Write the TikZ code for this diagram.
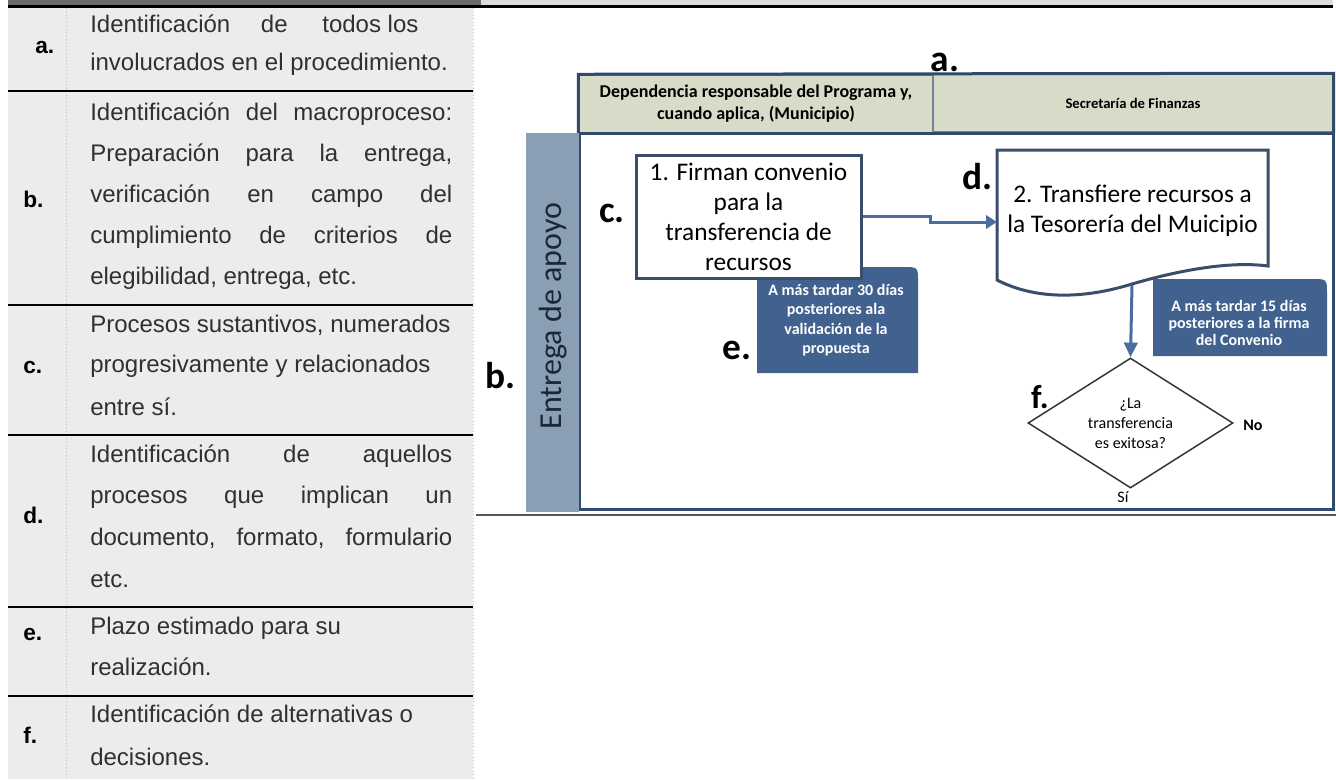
\documentclass[tikz,border=0pt]{standalone}
\usepackage{fontspec}
\setmainfont{Liberation Sans}
\newfontfamily\calib{Carlito}
\usetikzlibrary{shapes.geometric,arrows.meta}
\definecolor{tablebg}{HTML}{ECECEC}
\definecolor{topdark}{HTML}{6E6A6A}
\definecolor{toplight}{HTML}{DCDCDC}
\definecolor{tabtext}{HTML}{303030}
\definecolor{dotc}{HTML}{BDBDBD}
\definecolor{hdrfill}{HTML}{D7DCC8}
\definecolor{hdrline}{HTML}{6F8399}
\definecolor{frame}{HTML}{2F4A6D}
\definecolor{lanefill}{HTML}{8A9FB4}
\definecolor{calfill}{HTML}{41618F}
\definecolor{arrowc}{HTML}{4A6C9E}
\definecolor{boxborder}{HTML}{3A4D6A}
\definecolor{lanetext}{HTML}{1D2733}
\newcommand\jline[1]{\makebox[271.5pt][s]{#1}}
\def\u{0.75pt}
\begin{document}
\begin{tikzpicture}[x=0.75pt,y=-0.75pt,
  tl/.style={anchor=base west, inner sep=0, text=tabtext, font=\fontsize{18}{21}\selectfont},
  tletter/.style={anchor=base west, inner sep=0, text=black, font=\bfseries\fontsize{17}{20}\selectfont},
  rowline/.style={draw=black, line width=2pt},
  dotline/.style={draw=dotc, line width=0.6pt, dotted},
  biglbl/.style={inner sep=0, text=black, font=\calib\bfseries\fontsize{28}{30}\selectfont},
  hdrcell/.style={draw=hdrline, line width=1.1pt, fill=hdrfill, inner sep=0, align=center, text=black},
  procbox/.style={draw=boxborder, line width=2.25pt, fill=white, inner sep=0, align=center, font=\calib\fontsize{19}{22.5}\selectfont},
  arr/.style={draw=arrowc, line width=2.25pt},
  caltext/.style={inner sep=0, align=center, text=white, font=\calib\bfseries\fontsize{12}{14.6}\selectfont},
]
\useasboundingbox (0,0) rectangle (1336,779);
\fill[white] (0,0) rectangle (1336,779);

% ---------- legend table ----------
\fill[tablebg] (8,7) rectangle (473,779);
\fill[topdark] (8,0) rectangle (481,5);
\fill[toplight] (481,0) rectangle (1333,5);
\fill[black] (8,4.8) rectangle (1333,7.6);
\draw[dotline] (66,8) -- (66,779);
\draw[dotline] (473,8) -- (473,779);
\foreach \yy in {91,305,435,607,696} { \draw[rowline] (8,\yy) -- (473,\yy); }

\node[tletter] (la) at (35,53) {a.};
\node[tl] (ta1) at (90,32) {Identificación\hspace{23pt}de\hspace{26pt}todos los};
\node[tl] (ta2) at (90,70) {involucrados en el procedimiento.};

\node[tletter] (lb) at (23,207) {b.};
\node[tl] (tb1) at (90,120) {\jline{Identificación del macroproceso:}};
\node[tl] (tb2) at (90,161) {\jline{Preparación para la entrega,}};
\node[tl] (tb3) at (90,202) {\jline{verificación en campo del}};
\node[tl] (tb4) at (90,243) {\jline{cumplimiento de criterios de}};
\node[tl] (tb5) at (90,284) {elegibilidad, entrega, etc.};

\node[tletter] (lc) at (23,373) {c.};
\node[tl] (tc1) at (90,332) {Procesos sustantivos, numerados};
\node[tl] (tc2) at (90,372) {progresivamente y relacionados};
\node[tl] (tc3) at (90,415) {entre sí.};

\node[tletter] (ld) at (23,523) {d.};
\node[tl] (td1) at (90,462) {\jline{Identificación de aquellos}};
\node[tl] (td2) at (90,503) {\jline{procesos que implican un}};
\node[tl] (td3) at (90,545) {\jline{documento, formato, formulario}};
\node[tl] (td4) at (90,587) {etc.};

\node[tletter] (le) at (23,640) {e.};
\node[tl] (te1) at (90,634) {Plazo estimado para su};
\node[tl] (te2) at (90,675) {realización.};

\node[tletter] (lf) at (23,743) {f.};
\node[tl] (tf1) at (90,722) {Identificación de alternativas o};
\node[tl] (tf2) at (90,765) {decisiones.};

% ---------- diagram ----------
\draw[draw=topdark!80!black, line width=1.1pt] (476,515) -- (1336,515);

\node[hdrcell, minimum width=354*\u, minimum height=58*\u,
      font=\calib\bfseries\fontsize{13.5}{16.5}\selectfont] (h1) at (756,104)
      {Dependencia responsable del Programa y,\\cuando aplica, (Municipio)};
\node[hdrcell, minimum width=400*\u, minimum height=58*\u,
      font=\calib\bfseries\fontsize{11}{13}\selectfont] (h2) at (1133,103)
      {Secretaría de Finanzas};

\node[draw=frame, line width=2.25pt, fill=white, minimum width=754*\u, minimum height=376*\u, inner sep=0] (body) at (956,321) {};
\draw[draw=frame, line width=2.25pt] (h1.south west) -- (h1.north west) -- (h2.north east) -- (h2.south east);

\node[fill=lanefill, minimum width=53*\u, minimum height=379*\u, inner sep=0] (bar) at (552.5,322.5) {};
\node[rotate=90, inner sep=0, text=lanetext, font=\calib\fontsize{24}{26}\selectfont] (lanelbl) at (553,316) {Entrega de apoyo};

% callout e (behind box 1)
\fill[calfill] (757,373) -- (757,267) -- (903,267) .. controls (918,267) .. (918,282) -- (918,373) -- cycle;
\node[caltext] (c30) at (836,320) {A más tardar 30 días\\posteriores ala\\validación de la\\propuesta};

% callout 15 dias
\fill[calfill] (1153,356) -- (1153,279) -- (1312,279) .. controls (1327,279) .. (1327,294) -- (1327,356) -- cycle;
\node[caltext, font=\calib\bfseries\fontsize{12}{12.6}\selectfont] (c15) at (1239,323) {A más tardar 15 días\\posteriores a la firma\\del Convenio};

% process 1
\node[procbox, minimum width=225*\u, minimum height=123*\u] (p1) at (748.5,216.5)
  {1. Firman convenio\\para la\\transferencia de\\recursos};

% process 2 (document shape)
\filldraw[fill=white, draw=boxborder, line width=2.25pt]
  (997,150) -- (1268,150) -- (1268,266)
  .. controls (1230,261) and (1180,270) .. (1132,284)
  .. controls (1090,297) and (1040,302) .. (997,280) -- cycle;
\node[inner sep=0, align=center, minimum width=271*\u, minimum height=122*\u,
      font=\calib\fontsize{19}{22.5}\selectfont] (p2) at (1132.5,211)
  {2. Transfiere recursos a\\la Tesorería del Muicipio};
\coordinate (w2) at (1132,285);

% decision
\node[diamond, aspect=1.58, draw=black!80, line width=1.1pt, fill=white, inner sep=0,
      minimum width=205*\u, minimum height=130*\u, align=center,
      font=\calib\fontsize{12}{15}\selectfont] (dec) at (1130.5,423)
  {¿La\\transferencia\\es exitosa?};
\node[inner sep=0, font=\calib\bfseries\fontsize{12}{14}\selectfont] (no) at (1253,425) {No};
\node[inner sep=0, font=\calib\fontsize{12}{14}\selectfont] (si) at (1123,497) {Sí};

% connectors
\draw[arr, -{Triangle[length=8pt,width=10pt]}] (p1.east) -- (930,216.5) -- (930,222) -- (p2.west |- 930,222);
\draw[arr, -{Triangle[length=11pt,width=10pt]}] (w2) -- (dec.north);

% letter labels
\node[biglbl] (ka) at (945,62) {a.};
\node[biglbl] (kb) at (500,376) {b.};
\node[biglbl] (kc) at (612,213) {c.};
\node[biglbl] (kd) at (977,177) {d.};
\node[biglbl] (ke) at (737,350) {e.};
\node[biglbl, font=\calib\bfseries\fontsize{25}{27}\selectfont] (kf) at (1040,397) {f.};
\end{tikzpicture}
\end{document}
